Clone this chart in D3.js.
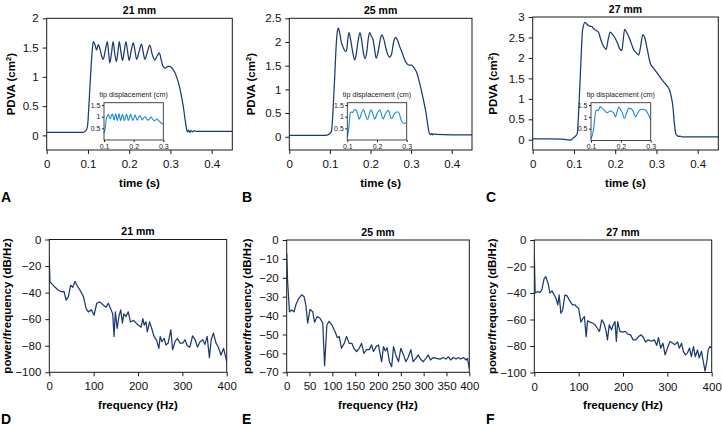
<!DOCTYPE html>
<html><head><meta charset="utf-8">
<script src="https://cdn.jsdelivr.net/npm/d3@7"></script>
<style>body{margin:0;background:#fff}svg{display:block}text{font-family:"Liberation Sans",Arial,sans-serif}</style>
</head><body><svg id="c" width="722" height="429"></svg>
<script>
// ---------- DATA ----------
const panelTitles = ["21 mm", "25 mm", "27 mm"];
const panelLettersTop = ["A", "B", "C"];
const panelLettersBottom = ["D", "E", "F"];
const timeTicks = [0, 0.1, 0.2, 0.3, 0.4];
const insetTimeTicks = [0.1, 0.2, 0.3];
const insetTipTicks = [0.5, 1, 1.5];
const pdvaTicks21 = [0, 0.5, 1, 1.5, 2];
const pdvaTicks25 = [0, 0.5, 1, 1.5, 2, 2.5];
const pdvaTicks27 = [0, 0.5, 1, 1.5, 2, 2.5, 3];
const freqTicks100 = [0, 100, 200, 300, 400];
const freqTicks50 = [0, 50, 100, 150, 200, 250, 300, 350, 400];
const psdTicks100 = [-100, -80, -60, -40, -20, 0];
const psdTicks70 = [-70, -60, -50, -40, -30, -20, -10, 0];

// PDVA (cm^2) vs time (s)
const pdva21 = [[0,0.05],[0.03,0.05],[0.06,0.05],[0.088,0.05],[0.095,0.08],[0.099,0.16],[0.103,0.6],[0.107,1.1],[0.111,1.5],[0.113,1.6],[0.117,1.55],[0.121,1.46],[0.125,1.55],[0.129,1.48],[0.133,1.36],[0.137,1.30],[0.142,1.45],[0.147,1.60],[0.150,1.42],[0.153,1.24],[0.157,1.40],[0.161,1.60],[0.165,1.40],[0.169,1.26],[0.173,1.45],[0.176,1.60],[0.180,1.42],[0.184,1.28],[0.188,1.44],[0.192,1.60],[0.196,1.44],[0.200,1.28],[0.205,1.45],[0.210,1.58],[0.214,1.45],[0.218,1.30],[0.224,1.43],[0.230,1.56],[0.234,1.42],[0.238,1.30],[0.244,1.42],[0.250,1.54],[0.256,1.38],[0.262,1.29],[0.268,1.36],[0.273,1.41],[0.278,1.28],[0.282,1.18],[0.288,1.15],[0.294,1.18],[0.298,1.18],[0.306,1.13],[0.315,1.0],[0.323,0.8],[0.331,0.5],[0.337,0.2],[0.341,0.06],[0.344,0.09],[0.347,0.05],[0.350,0.08],[0.354,0.06],[0.358,0.08],[0.362,0.07],[0.4,0.07],[0.45,0.07]];
const pdva25 = [[0,0.03],[0.05,0.03],[0.09,0.03],[0.1,0.07],[0.104,0.12],[0.108,0.6],[0.112,1.3],[0.116,2.0],[0.119,2.25],[0.121,2.29],[0.124,2.2],[0.128,2.0],[0.133,1.88],[0.138,1.80],[0.141,1.82],[0.144,2.05],[0.147,2.20],[0.151,2.05],[0.156,1.80],[0.161,1.62],[0.164,1.70],[0.169,2.0],[0.174,2.20],[0.178,2.05],[0.183,1.75],[0.187,1.65],[0.191,1.80],[0.195,2.10],[0.198,2.20],[0.202,2.12],[0.206,2.06],[0.210,1.85],[0.214,1.66],[0.219,1.80],[0.224,2.05],[0.228,2.15],[0.233,2.05],[0.240,1.80],[0.247,1.68],[0.252,1.75],[0.257,2.0],[0.262,2.10],[0.267,2.03],[0.272,1.90],[0.277,1.80],[0.283,1.65],[0.289,1.55],[0.295,1.51],[0.301,1.51],[0.307,1.46],[0.313,1.37],[0.319,1.20],[0.325,0.99],[0.331,0.75],[0.337,0.49],[0.342,0.2],[0.345,0.07],[0.348,0.04],[0.351,0.07],[0.354,0.04],[0.358,0.06],[0.362,0.05],[0.4,0.04],[0.45,0.04]];
const pdva27 = [[0,0.02],[0.04,0.02],[0.07,0.015],[0.085,0.0],[0.092,-0.01],[0.098,0.04],[0.103,0.08],[0.108,0.15],[0.112,0.8],[0.116,1.7],[0.121,2.69],[0.127,2.87],[0.131,2.83],[0.135,2.79],[0.140,2.77],[0.143,2.77],[0.147,2.72],[0.151,2.69],[0.156,2.66],[0.160,2.62],[0.165,2.45],[0.170,2.32],[0.174,2.25],[0.178,2.21],[0.183,2.45],[0.188,2.63],[0.193,2.58],[0.200,2.48],[0.206,2.35],[0.211,2.22],[0.216,2.18],[0.219,2.40],[0.223,2.70],[0.228,2.62],[0.236,2.44],[0.241,2.30],[0.245,2.20],[0.250,2.14],[0.257,2.07],[0.262,2.30],[0.267,2.57],[0.272,2.48],[0.278,2.20],[0.285,1.87],[0.293,1.75],[0.301,1.64],[0.309,1.53],[0.317,1.42],[0.325,1.33],[0.332,1.21],[0.336,1.05],[0.340,0.80],[0.343,0.45],[0.346,0.19],[0.348,0.12],[0.350,0.11],[0.353,0.08],[0.357,0.09],[0.362,0.07],[0.4,0.07],[0.45,0.07]];

// tip displacement (cm) vs time (s), insets
const tip21 = [[0.100,0.31],[0.104,0.5],[0.108,0.9],[0.111,1.02],[0.115,1.10],[0.118,1.0],[0.121,0.90],[0.124,1.0],[0.128,1.12],[0.131,1.0],[0.134,0.85],[0.137,1.0],[0.139,1.12],[0.142,1.0],[0.145,0.83],[0.148,0.98],[0.151,1.12],[0.153,1.0],[0.156,0.83],[0.159,0.96],[0.162,1.10],[0.165,0.98],[0.169,0.83],[0.172,0.96],[0.176,1.10],[0.179,0.98],[0.182,0.84],[0.186,0.96],[0.190,1.10],[0.193,0.98],[0.197,0.84],[0.201,0.95],[0.205,1.08],[0.208,0.97],[0.212,0.85],[0.216,0.95],[0.221,1.05],[0.225,0.96],[0.229,0.86],[0.233,0.93],[0.238,1.0],[0.243,0.93],[0.249,0.85],[0.253,0.9],[0.258,0.98],[0.264,0.9],[0.270,0.82],[0.274,0.86],[0.279,0.90],[0.285,0.82],[0.291,0.75],[0.295,0.72],[0.300,0.68]];
const tip25 = [[0.100,0.14],[0.104,0.4],[0.107,0.8],[0.110,1.17],[0.114,1.2],[0.118,1.18],[0.122,1.26],[0.126,1.31],[0.130,1.28],[0.134,1.15],[0.138,0.95],[0.140,0.89],[0.144,1.0],[0.149,1.2],[0.154,1.31],[0.158,1.2],[0.163,1.0],[0.168,0.88],[0.172,1.0],[0.176,1.2],[0.180,1.30],[0.184,1.2],[0.189,1.0],[0.193,0.9],[0.198,1.05],[0.204,1.22],[0.209,1.29],[0.213,1.2],[0.217,1.0],[0.221,0.9],[0.226,1.05],[0.232,1.2],[0.237,1.27],[0.241,1.2],[0.245,1.0],[0.249,0.92],[0.254,1.0],[0.260,1.15],[0.267,1.2],[0.272,1.2],[0.276,1.1],[0.280,0.9],[0.284,0.78],[0.288,0.73],[0.293,0.72],[0.297,0.74],[0.300,0.72]];
const tip27 = [[0.100,0.07],[0.105,0.25],[0.109,0.5],[0.113,1.0],[0.117,1.29],[0.121,1.28],[0.124,1.26],[0.128,1.36],[0.131,1.43],[0.137,1.37],[0.143,1.31],[0.149,1.22],[0.154,1.17],[0.160,1.22],[0.165,1.26],[0.170,1.22],[0.176,1.17],[0.182,1.0],[0.187,1.2],[0.193,1.43],[0.199,1.3],[0.205,1.17],[0.212,0.93],[0.219,1.15],[0.227,1.36],[0.233,1.35],[0.238,1.31],[0.244,1.15],[0.249,1.0],[0.256,1.15],[0.262,1.27],[0.266,1.31],[0.274,1.32],[0.283,1.29],[0.290,1.15],[0.296,1.0],[0.300,0.86]];

// power/frequency (dB/Hz) vs frequency (Hz)
const psd21 = [[0,-14.5],[1.5,-32],[5,-33],[13,-36],[20,-38],[28,-39.5],[33,-39],[38,-45.7],[43,-43],[48,-34.5],[53,-36],[58,-31.5],[63,-35],[69,-38],[77,-43],[83,-52],[88,-54.5],[95,-53],[101,-57],[107,-48],[114,-47],[122,-49.5],[128,-51],[133,-48],[138,-52],[143,-56],[146,-73],[149,-54.5],[153,-67],[157,-58],[161,-53],[165,-63],[168,-56],[173,-58],[178,-54.5],[183,-62],[190,-61],[196,-63],[201,-64.5],[207,-66],[211,-59.5],[214,-64.5],[218,-62],[221,-69.5],[226,-62],[231,-67],[236,-73],[242,-76],[247,-82],[250,-73],[254,-77],[259,-74.5],[263,-79.5],[268,-78],[274,-68],[278,-83],[284,-76.5],[289,-74.5],[295,-78],[301,-78],[306,-75.5],[311,-80],[317,-81],[323,-72.5],[329,-75.5],[334,-81],[340,-77],[346,-75.5],[351,-79],[356,-73],[361,-89],[365,-75.5],[370,-70.5],[376,-78],[381,-81],[387,-87],[393,-82],[400,-92]];
const psd25 = [[0,-7],[2,-22],[6,-38],[11,-37],[16,-38],[20,-34.4],[26,-31],[33,-29],[38,-30],[42,-34.4],[46,-44],[51,-36.7],[57,-38],[61,-43.5],[67,-40.5],[73,-41.4],[79,-44],[83,-66.5],[88,-45],[93,-43],[99,-45],[106,-48.5],[111,-51.7],[115,-51],[120,-57.3],[126,-54.7],[131,-51],[137,-54.7],[143,-54.7],[147,-57.3],[153,-59],[159,-57.3],[164,-54.7],[169,-60],[175,-58],[181,-58],[186,-55.5],[190,-59],[196,-56.4],[201,-55.5],[204,-59.4],[208,-64.4],[212,-56.4],[216,-58.7],[220,-57],[225,-64.4],[230,-67],[234,-56.4],[239,-60.8],[245,-64.4],[250,-57.3],[256,-60.8],[261,-64.4],[266,-62.2],[272,-58],[277,-64.4],[283,-62.6],[288,-60.8],[293,-63],[299,-64.4],[305,-62.6],[310,-60.8],[315,-63.5],[321,-62.2],[328,-62.6],[336,-63],[343,-62.2],[349,-63],[354,-61.7],[359,-63.5],[365,-62.2],[371,-63],[376,-62.2],[381,-63],[387,-62.2],[393,-63.5],[396,-62.6],[400,-68]];
const psd27 = [[0,-11],[2,-40],[7,-39],[13,-39.5],[17,-37.7],[22,-29.4],[26,-27.6],[32,-34],[35,-40],[40,-38.4],[44,-41],[49,-44],[53,-49],[56,-41.5],[60,-55.3],[64,-52.8],[69,-41.5],[74,-42.2],[80,-46],[86,-49],[92,-49],[95,-50.3],[100,-51.5],[105,-62],[109,-59.5],[113,-57.8],[117,-72.9],[120,-61],[126,-62],[132,-62.8],[137,-64],[142,-66.6],[147,-69],[152,-60.3],[157,-62.8],[162,-69],[165,-75.4],[169,-64],[174,-67.8],[178,-64],[182,-61.6],[185,-76.6],[188,-61.6],[193,-69],[199,-69.6],[205,-69],[211,-71],[217,-71.6],[223,-75.4],[229,-75.4],[235,-72.9],[241,-71.6],[246,-73.6],[251,-77],[256,-75.4],[262,-76.1],[267,-76.1],[271,-75.4],[276,-79.6],[280,-73.6],[285,-81.6],[290,-77.9],[295,-86.7],[300,-81.6],[306,-76.6],[312,-77.9],[317,-79],[323,-77],[327,-81.6],[332,-77.9],[336,-84],[341,-86.7],[345,-85.4],[350,-81.6],[354,-88],[359,-80.4],[363,-88],[368,-83],[372,-89],[377,-84],[381,-91.7],[385,-99],[389,-91.7],[392,-83],[396,-80.4],[400,-81.6]];

// ---------- DRAWING ----------
const svg = d3.select("#c");
const NAVY = "#1d3a6e", LIGHT = "#1b8ad8", INK = "#1a1a1a";
const FONT = "'Liberation Sans', Arial, Helvetica, sans-serif";

function panel(o) {
  const x = d3.scaleLinear().domain(o.xd).range([o.x0, o.x1]);
  const y = d3.scaleLinear().domain(o.yd).range([o.y1, o.y0]);
  const g = svg.append("g");
  const ax = g.append("g").attr("transform", `translate(0,${o.y1})`)
    .call(d3.axisBottom(x).tickValues(o.xt).tickSize(4).tickSizeOuter(0).tickPadding(6).tickFormat(o.xf || d3.format("")));
  const ay = g.append("g").attr("transform", `translate(${o.x0},0)`)
    .call(d3.axisLeft(y).tickValues(o.yt).tickSize(4).tickSizeOuter(0).tickPadding(4).tickFormat(o.yf || d3.format("")));
  [ax, ay].forEach(a => {
    a.select(".domain").remove();
    a.selectAll("line").attr("stroke", INK);
    a.selectAll("text").attr("font-family", FONT).attr("font-size", 11.5).attr("fill", "#111");
  });
  const line = d3.line().x(d => x(d[0])).y(d => y(d[1])).curve(o.curve || d3.curveLinear);
  const cid = "clip" + o.id;
  g.append("clipPath").attr("id", cid).append("rect")
    .attr("x", o.x0).attr("y", o.y0).attr("width", o.x1 - o.x0).attr("height", o.y1 - o.y0);
  g.append("path").datum(o.data).attr("clip-path", `url(#${cid})`)
    .attr("d", line).attr("fill", "none").attr("stroke", NAVY).attr("stroke-width", 1.25).attr("stroke-linejoin", "round");
  g.append("rect").attr("x", o.x0).attr("y", o.y0).attr("width", o.x1 - o.x0).attr("height", o.y1 - o.y0)
    .attr("fill", "none").attr("stroke", INK).attr("stroke-width", 1);
  const cx = (o.x0 + o.x1) / 2, cy = (o.y0 + o.y1) / 2;
  g.append("text").attr("x", cx).attr("y", o.y0 - 4.5).attr("text-anchor", "middle")
    .attr("font-family", FONT).attr("font-weight", "bold").attr("font-size", 10.5).text(o.title);
  g.append("text").attr("x", cx).attr("y", o.xlabY).attr("text-anchor", "middle")
    .attr("font-family", FONT).attr("font-weight", "bold").attr("font-size", 11.5).text(o.xlab);
  const yl = g.append("text").attr("transform", `translate(${o.ylabX},${cy}) rotate(-90)`).attr("text-anchor", "middle")
    .attr("font-family", FONT).attr("font-weight", "bold").attr("font-size", 11.5);
  if (o.sup) {
    yl.append("tspan").text("PDVA (cm");
    yl.append("tspan").attr("font-size", 7.5).attr("dy", -4.5).text("2");
    yl.append("tspan").attr("dy", 4.5).text(")");
  } else yl.text(o.ylab);
  g.append("text").attr("x", o.lx).attr("y", o.ly).attr("font-family", FONT)
    .attr("font-weight", "bold").attr("font-size", 14).text(o.letter);
  return g;
}

function inset(o) {
  const x = d3.scaleLinear().domain([0.1, 0.3]).range([o.x0, o.x1]);
  const y = d3.scaleLinear().domain([0, 1.6]).range([o.y1, o.y0]);
  const g = svg.append("g");
  g.append("rect").attr("x", o.x0).attr("y", o.y0).attr("width", o.x1 - o.x0).attr("height", o.y1 - o.y0).attr("fill", "#fff");
  const ax = g.append("g").attr("transform", `translate(0,${o.y1})`)
    .call(d3.axisBottom(x).tickValues(insetTimeTicks).tickSize(2).tickSizeOuter(0).tickPadding(2).tickFormat(d3.format("")));
  const ay = g.append("g").attr("transform", `translate(${o.x0},0)`)
    .call(d3.axisLeft(y).tickValues(insetTipTicks).tickSize(2).tickSizeOuter(0).tickPadding(1.5).tickFormat(d3.format("")));
  [ax, ay].forEach(a => {
    a.select(".domain").remove();
    a.selectAll("line").attr("stroke", INK);
    a.selectAll("text").attr("font-family", FONT).attr("font-size", 7).attr("fill", "#222");
  });
  const line = d3.line().x(d => x(d[0])).y(d => y(d[1])).curve(d3.curveMonotoneX);
  g.append("path").datum(o.data).attr("d", line).attr("fill", "none").attr("stroke", LIGHT).attr("stroke-width", 1.1);
  g.append("rect").attr("x", o.x0).attr("y", o.y0).attr("width", o.x1 - o.x0).attr("height", o.y1 - o.y0)
    .attr("fill", "none").attr("stroke", "#333").attr("stroke-width", 0.9);
  g.append("text").attr("x", (o.x0 + o.x1) / 2).attr("y", o.y0 - 6).attr("text-anchor", "middle")
    .attr("font-family", FONT).attr("font-size", 7.2).attr("fill", "#222").text("tip displacement (cm)");
}

const topCfg = [
  {id: "a", x0: 46.7, x1: 232.3, y0: 18.3, y1: 150, yd: [-0.25, 2], yt: pdvaTicks21, data: pdva21, ylabX: 15, lx: 1, ly: 202},
  {id: "b", x0: 289.3, x1: 472, y0: 18.3, y1: 150, yd: [-0.28, 2.5], yt: pdvaTicks25, data: pdva25, ylabX: 255, lx: 242, ly: 202},
  {id: "c", x0: 532.7, x1: 718.3, y0: 17, y1: 150, yd: [-0.25, 3], yt: pdvaTicks27, data: pdva27, ylabX: 497, lx: 486, ly: 202}
];
topCfg.forEach((c, i) => panel(Object.assign({
  xd: [0, 0.45], xt: timeTicks, title: panelTitles[i], xlab: "time (s)", xlabY: 186.5,
  sup: true, letter: panelLettersTop[i], curve: d3.curveMonotoneX
}, c)));

const insetCfg = [
  {x0: 104, x1: 163.3, y0: 102.7, y1: 140, data: tip21},
  {x0: 347.3, x1: 406.7, y0: 102.7, y1: 140, data: tip25},
  {x0: 591, x1: 650.7, y0: 102.7, y1: 140.5, data: tip27}
];
insetCfg.forEach(inset);

const botCfg = [
  {id: "d", x0: 49.3, x1: 226.7, y0: 239.5, y1: 372.3, yd: [-100, 0], yt: psdTicks100, xt: freqTicks100, data: psd21, ylabX: 11, lx: 1, ly: 424},
  {id: "e", x0: 286.7, x1: 469.3, y0: 240, y1: 372.3, yd: [-70, 0], yt: psdTicks70, xt: freqTicks50, data: psd25, ylabX: 251, lx: 242, ly: 424},
  {id: "f", x0: 534.3, x1: 711.7, y0: 240, y1: 372.5, yd: [-100, 0], yt: psdTicks100, xt: freqTicks100, data: psd27, ylabX: 496, lx: 486, ly: 424}
];
botCfg.forEach((c, i) => panel(Object.assign({
  xd: [0, 400], title: panelTitles[i], xlab: "frequency (Hz)", xlabY: 409,
  ylab: "power/frequency (dB/Hz)", letter: panelLettersBottom[i], yf: d3.format("")
}, c)));
</script></body></html>
